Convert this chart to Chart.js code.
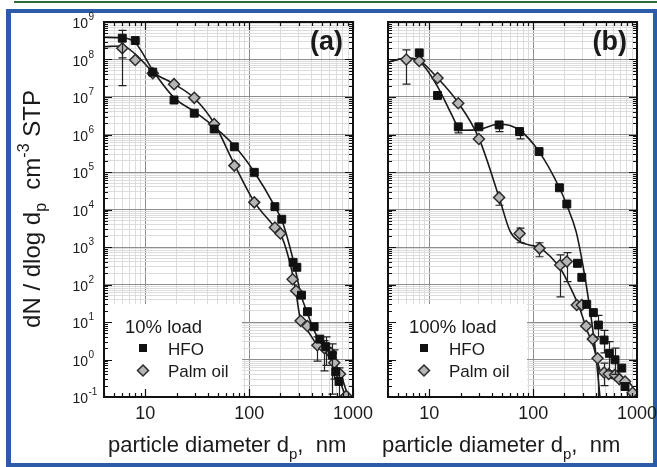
<!DOCTYPE html>
<html>
<head>
<meta charset="utf-8">
<script src="https://cdn.jsdelivr.net/npm/chart.js@4.4.1/dist/chart.umd.min.js"></script>
<style>
  html, body { margin: 0; padding: 0; background: #fff; }
  body { width: 657px; height: 467px; position: relative; overflow: hidden; }
  .topline { position: absolute; left: 14px; top: 1px; width: 643px; height: 2px; background: #2f6b3c; }
  .frame { position: absolute; left: 6px; top: 9px; width: 642px; height: 450px;
           border: 4px solid #2c5ba9; border-left-width: 5px; }
  canvas { position: absolute; left: 0; top: 0; }
</style>
</head>
<body>
<div class="topline"></div>
<div class="frame"></div>
<canvas id="chartA" width="657" height="467"></canvas>
<canvas id="chartB" width="657" height="467"></canvas>
<script>
// axis ranges and tick labels
const xMin = 4, xMax = 1000, yMin = 0.1, yMax = 1e9;
const xTickValues = [10, 100, 1000];
const xTickLabels = ['10', '100', '1000'];
const yTickExponents = [-1, 0, 1, 2, 3, 4, 5, 6, 7, 8, 9];

// (a) 10% load - measured points
const hfoA_d = [6, 8, 11.8, 18.9, 29.6, 46, 72, 112, 177, 206, 265, 288, 319, 364, 422, 479, 546, 632, 682, 733];
const hfoA_n = [3.7e8, 3.2e8, 4.6e7, 8.3e6, 3.7e6, 1.4e6, 4.7e5, 9.8e4, 1.19e4, 5.5e3, 390, 288, 52, 18.8, 7.5, 3.5, 2.2, 1.3, 0.47, 0.26];
const palmA_d = [6, 8, 11.8, 18.9, 29.6, 46, 72, 112, 177, 200, 262, 283, 313, 364, 454, 530, 612, 660, 750, 860];
const palmA_n = [2e8, 9.7e7, 4.3e7, 2.2e7, 9.5e6, 1.9e6, 1.48e5, 1.55e4, 3.3e3, 2.3e3, 138, 68, 10.8, 7.8, 2.4, 2.0, 1.5, 0.82, 0.41, 0.107];
// (a) fitted curves
const fitHfoA_d = [4, 6, 8, 12, 19, 30, 46, 72, 112, 177, 209, 270, 313, 364, 435, 546, 682, 830];
const fitHfoA_n = [3.9e8, 3.8e8, 2.8e8, 4.8e7, 9.5e6, 4e6, 1.6e6, 5e5, 1e5, 1.2e4, 4.7e3, 370, 58, 17, 5, 1.8, 0.52, 0.12];
const fitPalmA_d = [4, 6, 8, 12, 19, 30, 46, 72, 112, 177, 209, 252, 280, 313, 364, 454, 600, 750, 900];
const fitPalmA_n = [2.2e8, 2.3e8, 1.4e8, 4.5e7, 2.2e7, 9e6, 2e6, 1.6e5, 1.6e4, 3.3e3, 1.7e3, 300, 71, 11, 6, 2.4, 1.2, 0.45, 0.1];
// (a) error bars: [d, low, high]
const errHfoA = [[6, 1.1e8, 6e8], [546, 0.7, 4], [632, 0.12, 2.6], [733, 0.1, 0.6]];
const errPalmA = [[6, 2e7, 2.2e8], [454, 0.9, 4], [530, 0.5, 3.2], [660, 0.3, 1.8]];

// (b) 100% load - measured points
const hfoB_d = [8, 12, 19, 30, 47, 74, 114, 179, 211, 267, 294, 328, 380, 425, 482, 542, 614, 713, 767];
const hfoB_n = [1.5e8, 1.1e7, 1.6e6, 1.6e6, 1.8e6, 1.2e6, 3.5e5, 3.8e4, 1.4e4, 367, 155, 29.5, 17.8, 8.3, 3.3, 1.46, 0.98, 0.59, 0.19];
const palmB_d = [6, 8, 12, 19, 30, 47, 74, 115, 182, 211, 263, 294, 324, 375, 417, 482, 534, 614, 676, 767, 908];
const palmB_n = [1e8, 9.1e7, 3.2e7, 6.8e6, 7.6e5, 2.1e4, 2.3e3, 920, 330, 410, 28.5, 28.5, 7.8, 3.5, 1.08, 0.45, 0.41, 0.39, 0.3, 0.26, 0.13];
// (b) fitted curves
const fitHfoB_d = [4, 6, 8, 12, 16.5, 20, 30, 47, 74, 114, 179, 211, 260, 300, 350, 400, 440];
const fitHfoB_n = [8.5e7, 1.1e8, 9e7, 1.9e7, 3.3e6, 1.3e6, 1.35e6, 1.9e6, 1.3e6, 3.5e5, 3.8e4, 1.3e4, 2.5e3, 350, 25, 1.5, 0.1];
const fitPalmB_d = [4, 6, 8, 12, 19, 30, 47, 60, 74, 90, 116, 182, 230, 284, 330, 382, 440, 520, 590, 700, 855, 990];
const fitPalmB_n = [8.5e7, 1.1e8, 9.5e7, 3.2e7, 7e6, 8e5, 2.1e4, 2.6e3, 1.4e3, 1.15e3, 950, 270, 80, 21, 6, 2.2, 0.52, 0.35, 0.31, 0.27, 0.23, 0.12];
// (b) error bars: [d, low, high]
const errHfoB = [[19, 1.1e6, 1.6e6], [47, 1.2e6, 1.8e6], [74, 7.6e5, 1.2e6], [425, 4, 15], [482, 1.5, 6], [542, 0.5, 3], [614, 0.4, 2]];
const errPalmB = [[6, 2.2e7, 1.8e8], [47, 1.3e4, 2.1e4], [74, 1.3e3, 3.2e3], [115, 550, 1.3e3], [182, 47, 620], [211, 120, 710], [417, 0.1, 1.08], [482, 0.2, 0.8]];

const FONT = '"Liberation Sans", Arial, sans-serif';

function isDecade(v) {
  const l = Math.log10(v);
  return Math.abs(l - Math.round(l)) < 1e-6;
}

// gridlines at 1..9 x 10^k inside [min, max]
function gridTicks(min, max) {
  const out = [];
  for (let e = Math.floor(Math.log10(min)); e <= Math.ceil(Math.log10(max)); e++) {
    for (let m = 1; m < 10; m++) {
      const v = m * Math.pow(10, e);
      if (v >= min * 0.999 && v <= max * 1.001) out.push({ value: v });
    }
  }
  return out;
}

function pts(d, n) {
  return d.map((v, i) => ({ x: v, y: n[i] }));
}

function drawDiamond(ctx, x, y, r) {
  ctx.beginPath();
  ctx.moveTo(x, y - r); ctx.lineTo(x + r, y); ctx.lineTo(x, y + r); ctx.lineTo(x - r, y);
  ctx.closePath();
  ctx.fillStyle = '#b5b5b5'; ctx.fill();
  ctx.lineWidth = 1.5; ctx.strokeStyle = '#2b2b2b'; ctx.stroke();
}

// draws text pieces in sequence; each piece: [text, size, yShift]
function drawPieces(ctx, pieces, x, y) {
  let cx = x;
  pieces.forEach(([t, size, dy]) => {
    ctx.font = size + 'px ' + FONT;
    ctx.fillText(t, cx, y + dy);
    cx += ctx.measureText(t).width;
  });
  return cx - x;
}
function piecesWidth(ctx, pieces) {
  let w = 0;
  pieces.forEach(([t, size]) => { ctx.font = size + 'px ' + FONT; w += ctx.measureText(t).width; });
  return w;
}

const panelDecor = {
  id: 'panelDecor',
  beforeDatasetsDraw(chart, args, o) {
    // white legend box hides the grid underneath
    const { ctx, chartArea: a } = chart;
    ctx.save();
    ctx.fillStyle = '#fff';
    ctx.fillRect(a.left, o.boxTop, o.boxRight - a.left, a.bottom - o.boxTop);
    ctx.restore();
  },
  beforeDatasetDraw(chart, args) {
    const ds = chart.data.datasets[args.index];
    if (!ds.errBars) return;
    const { ctx, chartArea: a, scales: { x, y } } = chart;
    ctx.save();
    ctx.beginPath(); ctx.rect(a.left, a.top, a.right - a.left, a.bottom - a.top); ctx.clip();
    ctx.strokeStyle = '#222'; ctx.lineWidth = 1.2;
    ctx.beginPath();
    ds.errBars.forEach(([d, lo, hi]) => {
      const px = Math.round(x.getPixelForValue(d)) + 0.5;
      const y1 = y.getPixelForValue(lo), y2 = y.getPixelForValue(hi);
      ctx.moveTo(px, y1); ctx.lineTo(px, y2);
      ctx.moveTo(px - 4, y1); ctx.lineTo(px + 4, y1);
      ctx.moveTo(px - 4, y2); ctx.lineTo(px + 4, y2);
    });
    ctx.stroke();
    ctx.restore();
  },
  afterDraw(chart, args, o) {
    const { ctx, chartArea: a, scales: { x, y } } = chart;
    ctx.save();
    // inward ticks on all four sides
    ctx.strokeStyle = '#111'; ctx.lineWidth = 1.2;
    ctx.beginPath();
    x.ticks.forEach(t => {
      const px = Math.round(x.getPixelForValue(t.value)) + 0.5;
      const len = isDecade(t.value) ? 8 : 4;
      ctx.moveTo(px, a.bottom); ctx.lineTo(px, a.bottom - len);
      ctx.moveTo(px, a.top); ctx.lineTo(px, a.top + len);
    });
    y.ticks.forEach(t => {
      const py = Math.round(y.getPixelForValue(t.value)) + 0.5;
      const len = isDecade(t.value) ? 8 : 4;
      ctx.moveTo(a.left, py); ctx.lineTo(a.left + len, py);
      ctx.moveTo(a.right, py); ctx.lineTo(a.right - len, py);
    });
    ctx.stroke();
    ctx.lineWidth = 2;
    ctx.strokeRect(a.left, a.top, a.right - a.left, a.bottom - a.top);

    ctx.fillStyle = '#1a1a1a';
    // x tick labels
    ctx.font = '18px ' + FONT;
    ctx.textAlign = 'center'; ctx.textBaseline = 'alphabetic';
    xTickValues.forEach((v, i) => ctx.fillText(xTickLabels[i], x.getPixelForValue(v), 419));

    // y tick labels, 10 with raised exponent
    if (o.yLabels) {
      yTickExponents.forEach(e => {
        const py = y.getPixelForValue(Math.pow(10, e));
        ctx.textAlign = 'right'; ctx.font = '14px ' + FONT;
        ctx.fillText('10', 88, py + 6);
        ctx.textAlign = 'left'; ctx.font = '10px ' + FONT;
        ctx.fillText(String(e).replace('-', '-'), 88.5, py - 2);
      });
      // y axis title, rotated
      const yt = [['dN / dlog d', 24, 0], ['p', 16, 6], ['  cm', 24, 0], ['-3', 16, -11], [' STP', 24, 0]];
      const w = piecesWidth(ctx, yt);
      ctx.save();
      ctx.translate(40, 209 + w / 2);
      ctx.rotate(-Math.PI / 2);
      ctx.textAlign = 'left';
      drawPieces(ctx, yt, 0, 0);
      ctx.restore();
    }

    // x axis title
    ctx.textAlign = 'left';
    drawPieces(ctx, [['particle diameter d', 22, 0], ['p', 15, 7], [',  nm', 22, 0]], o.titleX, 452);

    // panel letter
    ctx.font = 'bold 27px ' + FONT;
    ctx.textAlign = 'right';
    ctx.fillText(o.letter, a.right - 10, 50);

    // legend
    ctx.textAlign = 'left';
    ctx.font = '18.5px ' + FONT;
    ctx.fillText(o.loadText, o.legendX, 333);
    ctx.font = '17px ' + FONT;
    ctx.fillStyle = '#111';
    ctx.fillRect(o.markerX - 4, 344, 8, 8);
    ctx.fillStyle = '#1a1a1a';
    ctx.fillText('HFO', o.markerX + 25, 355);
    drawDiamond(ctx, o.markerX, 370.5, 5.5);
    ctx.fillStyle = '#1a1a1a';
    ctx.fillText('Palm oil', o.markerX + 25, 377);
    ctx.restore();
  }
};

function gridColor(c) {
  if (!c.tick) return '#dcdcdc';
  return isDecade(c.tick.value) ? '#8e8e8e' : '#dcdcdc';
}

function makePanel(id, p) {
  return new Chart(document.getElementById(id), {
    type: 'scatter',
    data: {
      datasets: [
        { label: 'HFO', data: pts(p.hfoD, p.hfoN), pointStyle: 'rect', pointRadius: 5.6,
          backgroundColor: '#111', borderColor: '#111', borderWidth: 1, errBars: p.hfoErr },
        { label: 'Palm oil', data: pts(p.palmD, p.palmN), pointStyle: 'rectRot', pointRadius: 5.5,
          backgroundColor: '#b5b5b5', borderColor: '#2b2b2b', borderWidth: 1.5, errBars: p.palmErr },
        { label: 'HFO fit', data: pts(p.fitHfoD, p.fitHfoN), showLine: true, pointRadius: 0,
          borderColor: '#1a1a1a', borderWidth: 1.6, cubicInterpolationMode: 'monotone' },
        { label: 'Palm oil fit', data: pts(p.fitPalmD, p.fitPalmN), showLine: true, pointRadius: 0,
          borderColor: '#1a1a1a', borderWidth: 1.6, cubicInterpolationMode: 'monotone' }
      ]
    },
    options: {
      responsive: false,
      devicePixelRatio: 1,
      animation: false,
      events: [],
      layout: { padding: p.padding },
      plugins: {
        legend: { display: false },
        tooltip: { enabled: false },
        panelDecor: p.decor
      },
      scales: {
        x: {
          type: 'logarithmic', min: xMin, max: xMax,
          afterBuildTicks: s => { s.ticks = gridTicks(s.min, s.max); },
          ticks: { display: false },
          grid: { color: gridColor, lineWidth: 1, drawTicks: false },
          border: { display: false }
        },
        y: {
          type: 'logarithmic', min: yMin, max: yMax,
          afterBuildTicks: s => { s.ticks = gridTicks(s.min, s.max); },
          ticks: { display: false },
          grid: { color: gridColor, lineWidth: 1, drawTicks: false },
          border: { display: false }
        }
      }
    },
    plugins: [panelDecor]
  });
}

makePanel('chartA', {
  hfoD: hfoA_d, hfoN: hfoA_n, palmD: palmA_d, palmN: palmA_n,
  fitHfoD: fitHfoA_d, fitHfoN: fitHfoA_n, fitPalmD: fitPalmA_d, fitPalmN: fitPalmA_n,
  hfoErr: errHfoA, palmErr: errPalmA,
  padding: { left: 104, top: 22, right: 304, bottom: 70 },
  decor: { yLabels: true, letter: '(a)', loadText: '10% load', legendX: 125, markerX: 143,
           boxTop: 304, boxRight: 242, titleX: 108 }
});

makePanel('chartB', {
  hfoD: hfoB_d, hfoN: hfoB_n, palmD: palmB_d, palmN: palmB_n,
  fitHfoD: fitHfoB_d, fitHfoN: fitHfoB_n, fitPalmD: fitPalmB_d, fitPalmN: fitPalmB_n,
  hfoErr: errHfoB, palmErr: errPalmB,
  padding: { left: 388, top: 22, right: 20, bottom: 70 },
  decor: { yLabels: false, letter: '(b)', loadText: '100% load', legendX: 409, markerX: 424,
           boxTop: 304, boxRight: 527, titleX: 382 }
});
</script>
</body>
</html>
